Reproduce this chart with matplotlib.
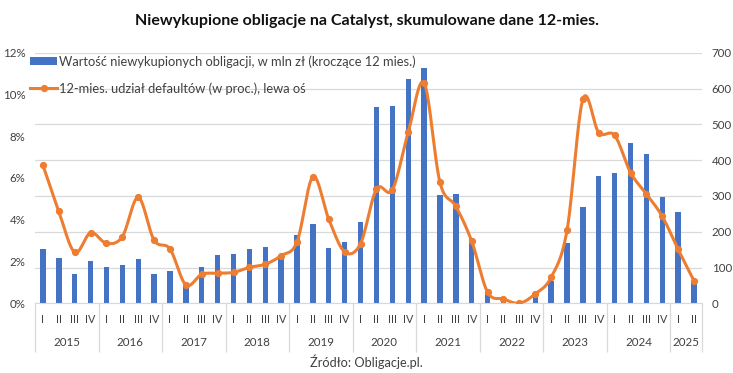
import numpy as np
import matplotlib
matplotlib.use("Agg")
import matplotlib.pyplot as plt
from matplotlib.lines import Line2D
from matplotlib.patches import Patch
import matplotlib.transforms as mtransforms

plt.rcParams['font.family'] = ['Lato', 'DejaVu Sans']

years = ['2015', '2016', '2017', '2018', '2019', '2020', '2021', '2022', '2023', '2024', '2025']
quarters = ['I', 'II', 'III', 'IV'] * 10 + ['I', 'II']

# Value of unredeemed bonds, PLN m (rolling 12 months) - right axis
bond_value = [152, 127, 82, 119, 101, 107, 124, 82,
              91, 52, 101, 135, 139, 152, 157, 135,
              191, 222, 155, 171, 227, 548, 551, 627,
              657, 303, 305, 182, 28, 8, 2, 20,
              62, 169, 270, 356, 364, 448, 417, 297,
              255, 60]

# 12-month default share (%) - left axis
default_pct = [6.61, 4.40, 2.44, 3.38, 2.87, 3.19, 5.07, 3.02,
               2.60, 0.88, 1.39, 1.44, 1.48, 1.72, 1.87, 2.28,
               2.94, 6.06, 4.02, 2.46, 2.86, 5.47, 5.43, 8.19,
               10.55, 5.79, 4.64, 2.97, 0.53, 0.21, 0.00, 0.45,
               1.24, 3.49, 9.77, 8.17, 8.04, 6.26, 5.23, 4.16,
               2.58, 1.07]

title = "Niewykupione obligacje na Catalyst, skumulowane dane 12-mies."
bar_label = "Wartość niewykupionych obligacji, w mln zł (kroczące 12 mies.)"
line_label = "12-mies. udział defaultów (w proc.), lewa oś"
source = "Źródło: Obligacje.pl."

BLUE = '#4472C4'
ORANGE = '#ED7D31'
GRID = '#D9D9D9'
TXT = '#404040'


def catmull_rom(x, y, n=20):
    x = np.asarray(x, float)
    y = np.asarray(y, float)
    px = np.concatenate([[2 * x[0] - x[1]], x, [2 * x[-1] - x[-2]]])
    py = np.concatenate([[2 * y[0] - y[1]], y, [2 * y[-1] - y[-2]]])
    xs, ys = [], []
    t = np.linspace(0, 1, n, endpoint=False)
    for i in range(1, len(px) - 2):
        for arr, out in ((px, xs), (py, ys)):
            p0, p1, p2, p3 = arr[i - 1], arr[i], arr[i + 1], arr[i + 2]
            out.extend(0.5 * ((2 * p1) + (-p0 + p2) * t +
                              (2 * p0 - 5 * p1 + 4 * p2 - p3) * t ** 2 +
                              (-p0 + 3 * p1 - 3 * p2 + p3) * t ** 3))
    xs.append(x[-1])
    ys.append(y[-1])
    return np.array(xs), np.array(ys)


fig = plt.figure(figsize=(7.33, 3.73), dpi=100)
ax = fig.add_axes([35 / 733, 1 - 303.3 / 373, 667 / 733, 250.6 / 373])
x = np.arange(len(bond_value))

ax.bar(x, bond_value, width=0.34, color=BLUE, zorder=2)
ax.set_ylim(0, 700)
ax.set_yticks(np.arange(0, 701, 100))
ax.set_xlim(-0.5, len(x) - 0.5)
ax.grid(axis='y', color=GRID, linewidth=0.9, zorder=0)
ax.set_axisbelow(True)
for s in ['left', 'right', 'top']:
    ax.spines[s].set_visible(False)
ax.spines['bottom'].set_color(GRID)

ax.set_xticks(x)
ax.set_xticklabels(quarters)
ax.tick_params(axis='x', length=0, pad=8, labelsize=7.8, labelcolor=TXT)
ax.set_xticks(np.arange(-0.5, len(x), 4).tolist() + [len(x) - 0.5], minor=True)
ax.tick_params(axis='x', which='minor', length=35, color=GRID, width=0.9)

trans = mtransforms.blended_transform_factory(ax.transData, fig.transFigure)
for k, yr in enumerate(years):
    start = 4 * k
    end = min(4 * k + 3, len(x) - 1)
    ax.text((start + end) / 2, 1 - 342 / 373, yr, transform=trans,
            ha='center', va='center', fontsize=8.3, color=TXT)

ax2 = ax.twinx()
ax2.set_ylim(0, 12)
ax2.set_yticks(np.arange(0, 13, 2))
ax2.set_yticklabels([f"{v}%" for v in range(0, 13, 2)])
for s in ['left', 'right', 'top', 'bottom']:
    ax2.spines[s].set_visible(False)

# axis sides: bars on right axis, line on left axis
ax.yaxis.set_ticks_position('right')
ax.yaxis.set_label_position('right')
ax2.yaxis.set_ticks_position('left')
ax2.yaxis.set_label_position('left')
ax.tick_params(axis='y', which='both', left=False, labelleft=False, right=False,
               labelright=True, length=0, pad=7, labelsize=8.3, labelcolor=TXT)
ax2.tick_params(axis='y', which='both', right=False, labelright=False, left=False,
                labelleft=True, length=0, pad=7, labelsize=8.3, labelcolor=TXT)

sx, sy = catmull_rom(x, default_pct)
ax2.plot(sx, sy, color=ORANGE, linewidth=2.2, solid_capstyle='round', zorder=3)
ax2.plot(x, default_pct, 'o', color=ORANGE, markersize=4.2, zorder=4)

handles = [Patch(facecolor=BLUE, edgecolor='none'),
           Line2D([0], [0], color=ORANGE, linewidth=2.2, marker='o', markersize=4.2)]
leg = ax2.legend(handles, [bar_label, line_label], loc='upper left',
                 bbox_to_anchor=(-0.007, 0.99), frameon=False, fontsize=9.3,
                 borderpad=0, borderaxespad=0,
                 handlelength=2.1, handleheight=0.55, handletextpad=0.15, labelspacing=1.1)
for t in leg.get_texts():
    t.set_color(TXT)

fig.text(0.5, 1 - 21 / 373, title, ha='center', va='center', fontsize=11.5,
         fontweight='bold', color='#111111')
fig.text(0.5, 1 - 362 / 373, source, ha='center', va='center', fontsize=9.2, color=TXT)

fig.savefig('out.png', dpi=100)
